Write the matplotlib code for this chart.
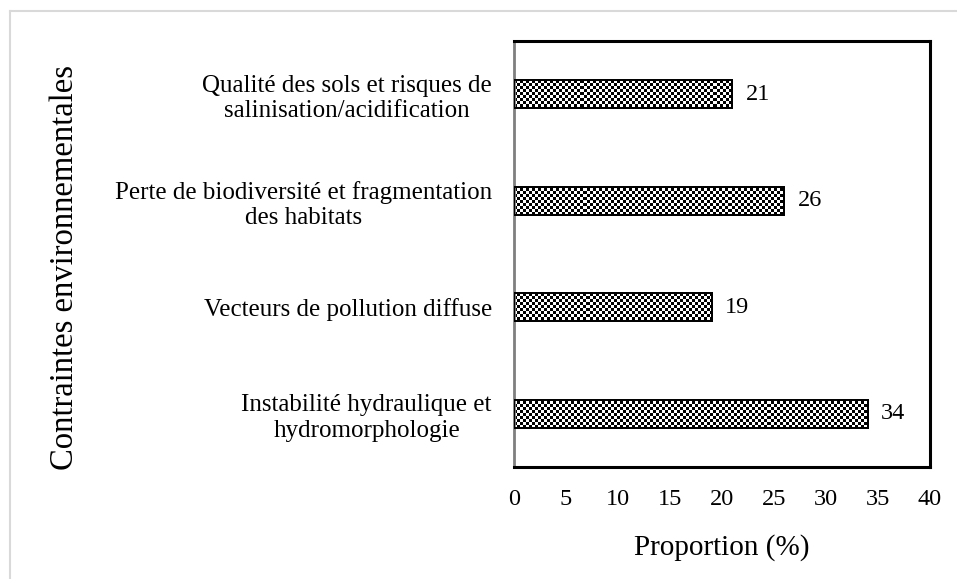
import matplotlib
matplotlib.use("Agg")
import matplotlib.pyplot as plt
import numpy as np
from matplotlib.patches import Rectangle

categories = [
    "Instabilité hydraulique et\nhydromorphologie",
    "Vecteurs de pollution diffuse",
    "Perte de biodiversité et fragmentation\ndes habitats",
    "Qualité des sols et risques de\nsalinisation/acidification",
]
values = [34, 19, 26, 21]
xticks = [0, 5, 10, 15, 20, 25, 30, 35, 40]

plt.rcParams['font.family'] = ['Liberation Serif', 'DejaVu Serif']

fig = plt.figure(figsize=(9.57, 5.79), dpi=100)
fig.patch.set_facecolor('white')
# light frame around figure (left and top)
fig.add_artist(plt.Line2D([10/957, 10/957], [0, 1 - 11/579], color='#d9d9d9', lw=1.5, transform=fig.transFigure))
fig.add_artist(plt.Line2D([10/957, 1], [1 - 11/579, 1 - 11/579], color='#d9d9d9', lw=1.5, transform=fig.transFigure))

ax = fig.add_axes([514/957, 1 - 467/579, (930 - 514)/957, (467 - 41)/579])
y = np.arange(len(categories))
bars = ax.barh(y, values, height=0.26, facecolor='none', edgecolor='black', linewidth=1.2, zorder=3)
ax.set_xlim(0, 40)
ax.set_ylim(-0.5, len(categories) - 0.5)

# checkerboard texture clipped to each bar
ncols = 416 // 3
nrows = 426 // 3
cb = (np.add.outer(np.arange(nrows), np.arange(ncols)) % 2).astype(float)
for b in bars:
    im = ax.imshow(cb, cmap='gray', vmin=0, vmax=1, extent=(0, 40, -0.5, len(categories) - 0.5),
                   aspect='auto', interpolation='nearest', zorder=2, origin='lower')
    im.set_clip_path(b)
ax.set_xlim(0, 40)
ax.set_ylim(-0.5, len(categories) - 0.5)
for b in bars:
    r = Rectangle((0, b.get_y()), b.get_width(), b.get_height(), fill=False,
                  edgecolor='black', lw=1.4, zorder=4)
    ax.add_patch(r)

for yi, v in zip(y, values):
    ax.text(v + 1.3, yi, str(v), va='center', ha='left', fontsize=17.5)

ax.set_yticks(y)
ax.set_yticklabels(categories, fontsize=18, multialignment='center', linespacing=1.2)
ax.tick_params(axis='y', length=0, pad=16)
ax.set_xticks(xticks)
ax.set_xticklabels([str(t) for t in xticks], fontsize=17.5)
ax.tick_params(axis='x', length=0, pad=16)

for s in ['top', 'right', 'bottom']:
    ax.spines[s].set_linewidth(2.2)
    ax.spines[s].set_color('black')
ax.spines['left'].set_linewidth(2)
ax.spines['left'].set_color('#7f7f7f')

ax.set_xlabel('Proportion (%)', fontsize=21, labelpad=17)
fig.text(65/957, 1 - 267/579, 'Contraintes environnementales', rotation=90,
         ha='center', va='center', fontsize=23.5)

fig.savefig('out.png', dpi=100)
